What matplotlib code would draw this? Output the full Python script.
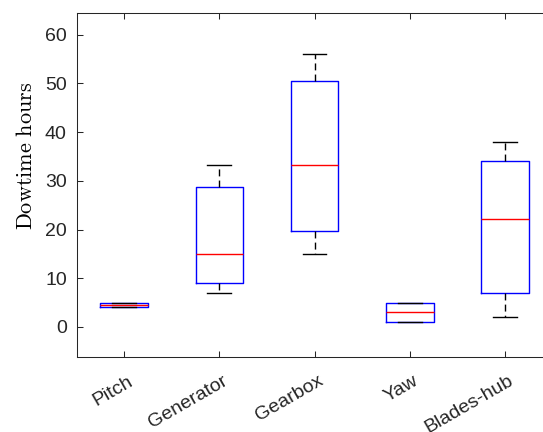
import matplotlib
matplotlib.use("Agg")
from matplotlib import pyplot as plt
import matplotlib.transforms as mtransforms

plt.rcParams['font.family'] = ['Liberation Sans', 'DejaVu Sans']
plt.rcParams['mathtext.fontset'] = 'cm'

# box plot summary values (hours)
categories = ["Pitch", "Generator", "Gearbox", "Yaw", "Blades-hub"]
whisker_low = [4.0, 7.0, 15.0, 1.0, 2.0]
q1 = [4.0, 9.0, 19.6, 1.0, 7.0]
median = [4.5, 15.0, 33.3, 3.0, 22.2]
q3 = [5.0, 28.7, 50.4, 5.0, 34.1]
whisker_high = [5.0, 33.3, 56.1, 5.0, 38.0]

stats = []
for i in range(len(categories)):
    stats.append({"label": categories[i], "whislo": whisker_low[i], "q1": q1[i],
                  "med": median[i], "q3": q3[i], "whishi": whisker_high[i],
                  "fliers": []})

fig = plt.figure(figsize=(5.43, 4.32), dpi=100)
# axes runs a bit past the right edge, as in the reference crop
ax = fig.add_axes([0.1409, 0.1743, 0.8766, 0.7956])

lw = 1.0
ax.bxp(stats, widths=0.5, showfliers=False, patch_artist=False,
       boxprops=dict(color="#0000ff", linewidth=lw),
       medianprops=dict(color="#ff0000", linewidth=lw),
       whiskerprops=dict(color="black", linewidth=lw, linestyle=(0, (5, 3))),
       capprops=dict(color="black", linewidth=lw))

ax.set_xlim(0.5, 5.5)
ax.set_ylim(-6.1, 64.45)
ax.set_yticks([0, 10, 20, 30, 40, 50, 60])

for s in ax.spines.values():
    s.set_color("#262626")
    s.set_linewidth(0.75)
ax.tick_params(direction="in", length=4, width=0.75, color="#262626",
               labelcolor="#262626", labelsize=14, top=True, right=True)
ax.tick_params(axis="y", pad=7)

offset = mtransforms.ScaledTranslation(3 / 100, -11 / 100, fig.dpi_scale_trans)
for lab in ax.get_xticklabels():
    lab.set_rotation(30)
    lab.set_ha("right")
    lab.set_va("top")
    lab.set_rotation_mode("anchor")
    lab.set_transform(lab.get_transform() + offset)

ax.set_ylabel(r"$\mathrm{Dowtime\ hours}$", fontsize=16)
ax.yaxis.set_label_coords(-0.105, 0.585)
ax.yaxis.label.set_va("center")

fig.savefig("out.png", dpi=100)
